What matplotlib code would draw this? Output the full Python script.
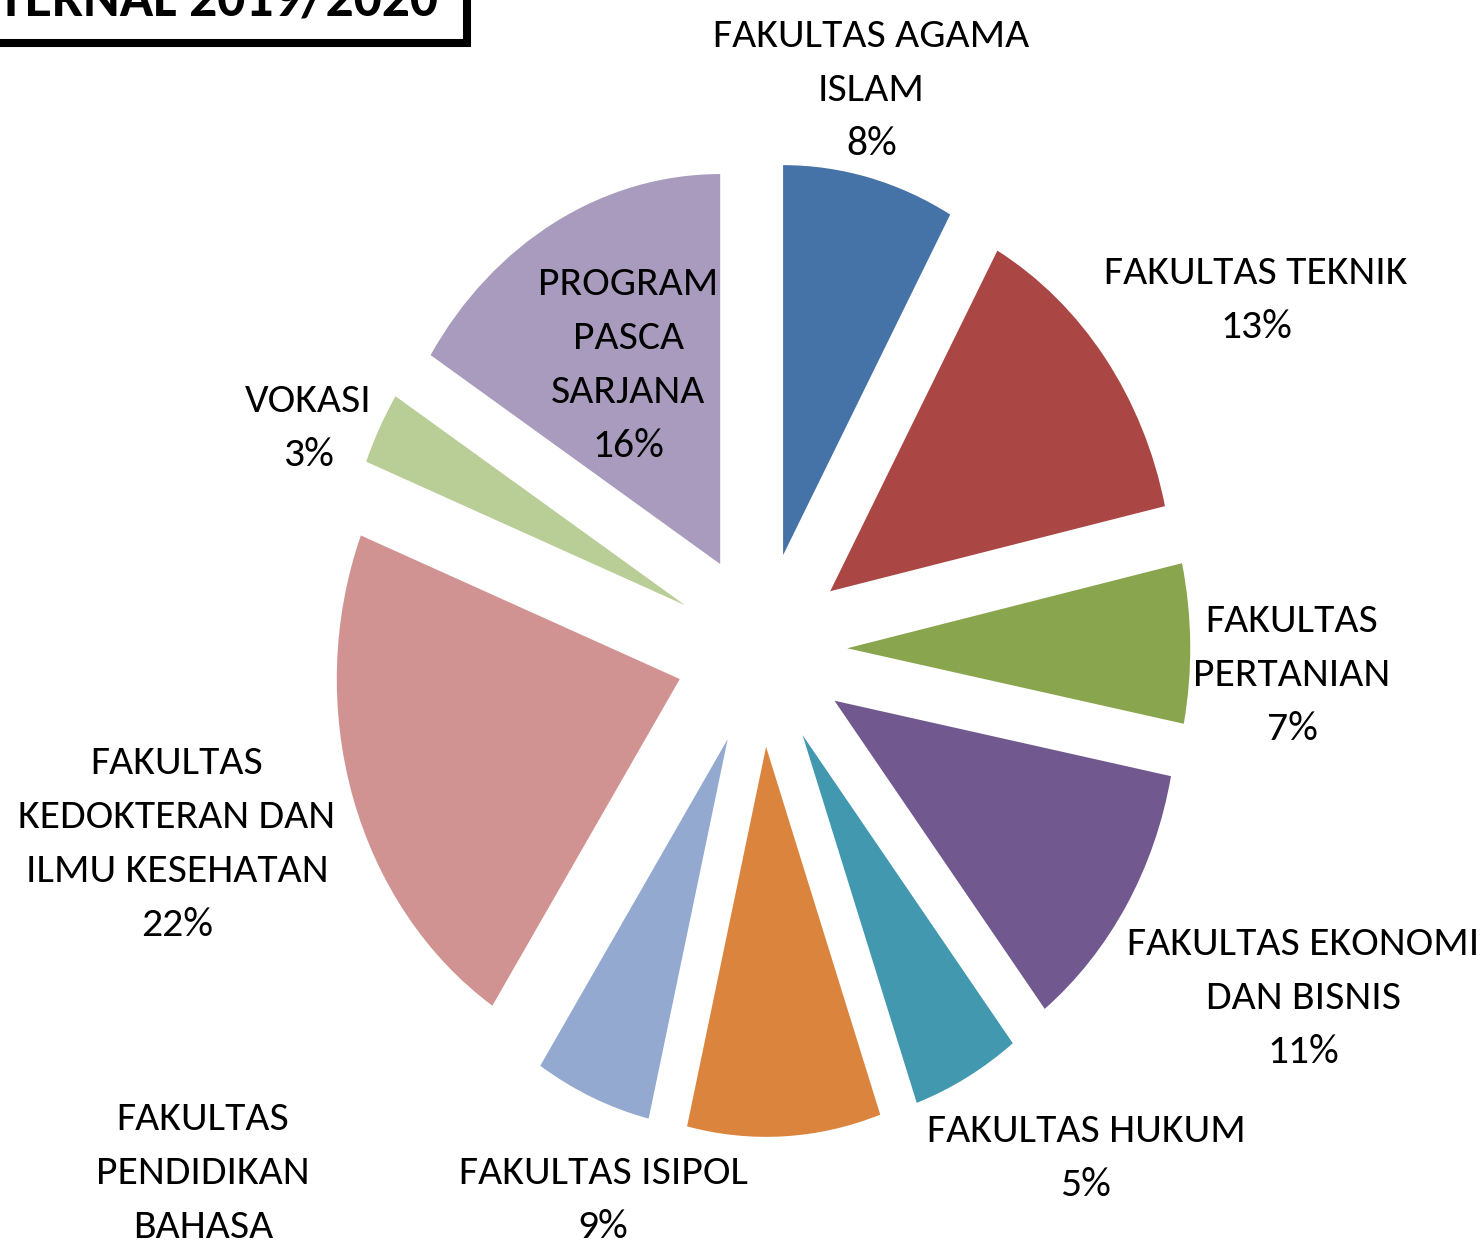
import matplotlib
matplotlib.use("Agg")
import matplotlib.pyplot as plt
from matplotlib.patches import Rectangle

# Data persentase per fakultas (searah jarum jam dari atas)
fakultas = [
    "FAKULTAS AGAMA\nISLAM",
    "FAKULTAS TEKNIK",
    "FAKULTAS\nPERTANIAN",
    "FAKULTAS EKONOMI\nDAN BISNIS",
    "FAKULTAS HUKUM",
    "FAKULTAS ISIPOL",
    "FAKULTAS\nPENDIDIKAN\nBAHASA",
    "FAKULTAS\nKEDOKTERAN DAN\nILMU KESEHATAN",
    "VOKASI",
    "PROGRAM\nPASCA\nSARJANA",
]
persen = [8.1, 13.4, 6.6, 11.4, 5.1, 9.1, 5.5, 21.8, 3.0, 16.0]
warna = ["#4572A7", "#AA4643", "#89A54E", "#71588F", "#4198AF",
         "#DB843D", "#93A9CF", "#D19392", "#B9CD96", "#A99BBD"]

# posisi label (satuan jari-jari pie)
posisi_label = [(0.32, 1.435), (1.442, 0.896), (1.547, -0.065), (1.579, -0.894),
                (0.946, -1.304), (-0.462, -1.412), (-1.628, -1.412), (-1.704, -0.499),
                (-1.322, 0.568), (-0.389, 0.730)]

judul = "INTERNAL 2019/2020"

W, H = 1483, 1242
cx, cy = 761.5, 649.5   # pusat pie dalam piksel
rx, ry = 343.0, 390.0   # gambar asli sedikit gepeng

fig = plt.figure(figsize=(W / 100, H / 100), dpi=100)
ax = fig.add_axes([0, 0, 1, 1])

ax.pie(persen, colors=warna, startangle=90, counterclock=False,
       explode=[0.25] * len(persen), radius=1.0,
       wedgeprops={"linewidth": 0})

ax.set_aspect("auto")
ax.set_xlim(-cx / rx, (W - cx) / rx)
ax.set_ylim(-(H - cy) / ry, cy / ry)
ax.axis("off")

huruf = ["Carlito", "Archivo Narrow", "Liberation Sans", "DejaVu Sans"]
for nama, p, (x, y) in zip(fakultas, persen, posisi_label):
    ax.text(x, y, f"{nama}\n{round(p)}%", ha="center", va="center",
            fontsize=30, family=huruf, linespacing=1.62, color="black")

# kotak judul (terpotong di pojok kiri atas)
kotak = Rectangle((-0.05, 1 - 43 / H), 0.05 + 467 / W, 0.2,
                  transform=fig.transFigure, fill=False, edgecolor="black",
                  linewidth=5.8, clip_on=False)
fig.patches.append(kotak)
fig.text(438 / W, 1 - 15 / H, judul, ha="right", va="baseline",
         fontsize=40, fontweight="bold", family=huruf)

fig.savefig("out.png", dpi=100)
